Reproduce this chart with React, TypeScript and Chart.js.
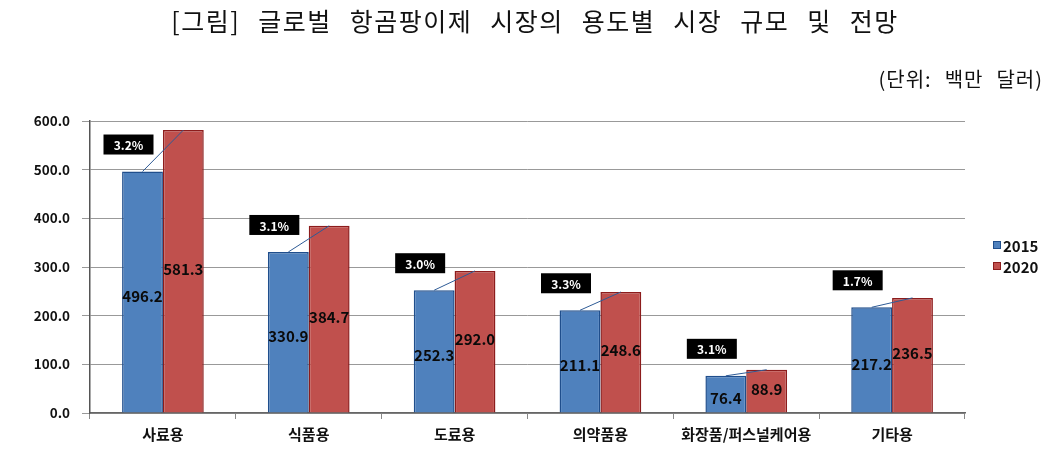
import React, { useEffect, useRef } from "react";
import { Chart, registerables } from "chart.js";

Chart.register(...registerables);

const categories = ["사료용", "식품용", "도료용", "의약품용", "화장품/퍼스널케어용", "기타용"];
const values2015 = [496.2, 330.9, 252.3, 211.1, 76.4, 217.2];
const values2020 = [581.3, 384.7, 292.0, 248.6, 88.9, 236.5];
const growthLabels = ["3.2%", "3.1%", "3.0%", "3.3%", "3.1%", "1.7%"];
const seriesNames = ["2015", "2020"];
const titleText = "[그림] 글로벌 항곰팡이제 시장의 용도별 시장 규모 및 전망";
const unitText = "(단위: 백만 달러)";

const FONT = "'Noto Sans CJK KR', 'Noto Sans', sans-serif";
const BLUE = "#4F81BD";
const BLUE_EDGE = "#1F4E8C";
const RED = "#C0504D";
const RED_EDGE = "#8C1C1C";

function drawSpaced(ctx: any, text: string, centerX: number | null, rightX: number | null, y: number, gap: number) {
  const words = text.split(" ");
  const widths = words.map((w) => ctx.measureText(w).width);
  const total = widths.reduce((a: number, b: number) => a + b, 0) + gap * (words.length - 1);
  let x = centerX !== null ? centerX - total / 2 : (rightX as number) - total;
  ctx.textAlign = "left";
  words.forEach((w, i) => {
    ctx.fillText(w, x, y);
    x += widths[i] + gap;
  });
}

const overlayPlugin = {
  id: "overlay",
  afterDatasetsDraw(chart: any) {
    const ctx = chart.ctx;
    const m0 = chart.getDatasetMeta(0);
    const m1 = chart.getDatasetMeta(1);
    ctx.save();
    ctx.font = `bold 15px ${FONT}`;
    ctx.fillStyle = "#0a0a0a";
    ctx.textAlign = "center";
    ctx.textBaseline = "middle";
    [m0, m1].forEach((meta: any, di: number) => {
      const vals = di === 0 ? values2015 : values2020;
      meta.data.forEach((bar: any, i: number) => {
        const cy = (bar.y + bar.base) / 2;
        ctx.fillText(vals[i].toFixed(1), bar.x, cy + (di === 0 ? 4 : -2));
      });
    });
    m0.data.forEach((b0: any, i: number) => {
      const b1 = m1.data[i];
      ctx.strokeStyle = "#2E5B96";
      ctx.lineWidth = 1;
      ctx.beginPath();
      ctx.moveTo(b0.x, b0.y);
      ctx.lineTo(b1.x, b1.y);
      ctx.stroke();
      const bw = 50, bh = 20;
      const cx = b0.x - 14;
      const cy = b0.y - 27;
      ctx.fillStyle = "#000";
      ctx.fillRect(cx - bw / 2, cy - bh / 2, bw, bh);
      ctx.fillStyle = "#fff";
      ctx.font = `bold 12px ${FONT}`;
      ctx.fillText(growthLabels[i], cx, cy + 1);
    });
    ctx.restore();
  },
  afterDraw(chart: any) {
    const ctx = chart.ctx;
    ctx.save();
    ctx.fillStyle = "#111";
    ctx.textBaseline = "middle";
    ctx.font = `25px ${FONT}`;
    (ctx as any).letterSpacing = "1.5px";
    drawSpaced(ctx, titleText, 535, null, 21, 18);
    ctx.font = `20px ${FONT}`;
    (ctx as any).letterSpacing = "1px";
    drawSpaced(ctx, unitText, null, 1043, 79, 13);
    (ctx as any).letterSpacing = "0px";
    const colors = [[BLUE, BLUE_EDGE], [RED, RED_EDGE]];
    ctx.font = `bold 15px ${FONT}`;
    ctx.textAlign = "left";
    seriesNames.forEach((n, i) => {
      const y = 245 + i * 21;
      ctx.fillStyle = colors[i][0];
      ctx.fillRect(993, y - 4, 8, 8);
      ctx.strokeStyle = colors[i][1];
      ctx.lineWidth = 1;
      ctx.strokeRect(993.5, y - 3.5, 7, 7);
      ctx.fillStyle = "#111";
      ctx.fillText(n, 1003, y + 1);
    });
    ctx.restore();
  },
};

export default function App() {
  const ref = useRef<HTMLCanvasElement>(null);
  useEffect(() => {
    const chart = new Chart(ref.current as HTMLCanvasElement, {
      type: "bar",
      data: {
        labels: categories,
        datasets: [
          {
            label: seriesNames[0],
            data: values2015,
            backgroundColor: BLUE,
            borderColor: BLUE_EDGE,
            borderWidth: 1.5,
            barPercentage: 1,
            categoryPercentage: 0.56,
          },
          {
            label: seriesNames[1],
            data: values2020,
            backgroundColor: RED,
            borderColor: RED_EDGE,
            borderWidth: 1.5,
            barPercentage: 1,
            categoryPercentage: 0.56,
          },
        ],
      },
      options: {
        animation: false,
        responsive: true,
        maintainAspectRatio: false,
        layout: { padding: { top: 121, left: 10, right: 91, bottom: 0 } },
        plugins: {
          legend: { display: false },
          tooltip: { enabled: false },
          title: { display: false },
        },
        scales: {
          x: {
            afterFit(scale: any) {
              scale.height = 49;
            },
            grid: {
              display: true,
              drawOnChartArea: false,
              drawTicks: true,
              tickLength: 6,
              offset: true,
              color: "#888",
            },
            border: { display: true, color: "#666", width: 1.5 },
            ticks: {
              color: "#111",
              font: { family: FONT, size: 15, weight: "bold" },
              padding: 6,
              maxRotation: 0,
              autoSkip: false,
            },
          },
          y: {
            min: 0,
            max: 600,
            afterFit(scale: any) {
              scale.width = 80;
            },
            ticks: {
              stepSize: 100,
              color: "#111",
              font: { family: FONT, size: 13.5, weight: "bold" },
              padding: 12,
              callback: (v: any) => Number(v).toFixed(1),
            },
            grid: { color: "#999", lineWidth: 1, tickLength: 8 },
            border: { display: true, color: "#555", width: 1.5 },
          },
        },
      },
      plugins: [overlayPlugin],
    });
    return () => chart.destroy();
  }, []);
  return (
    <div style={{ position: "absolute", left: 0, top: 0, width: 1056, height: 462, background: "#fff" }}>
      <canvas ref={ref} />
    </div>
  );
}
